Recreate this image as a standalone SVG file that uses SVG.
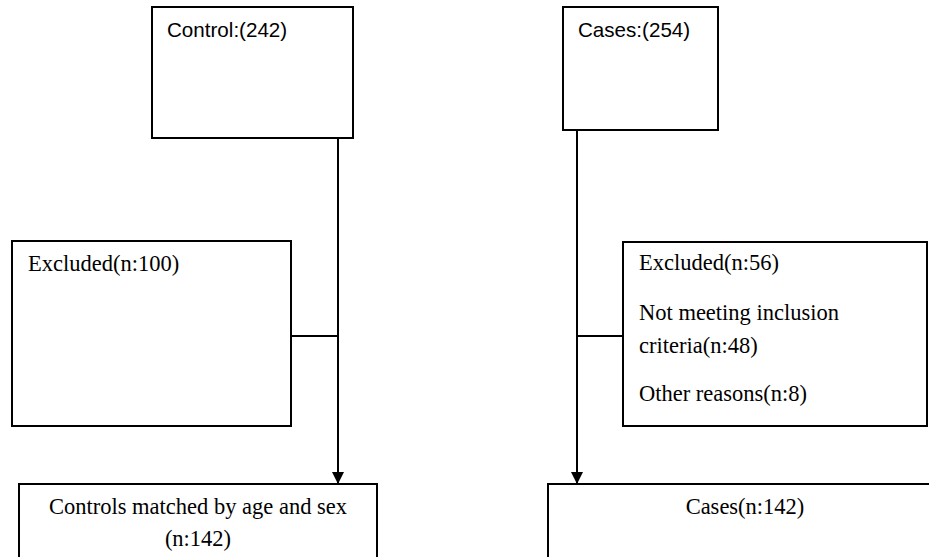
<svg xmlns="http://www.w3.org/2000/svg" width="929" height="557" viewBox="0 0 929 557">
<style>
.box{fill:#fff;stroke:#000;stroke-width:2}
.ln{fill:none;stroke:#000;stroke-width:2}
.sans{font-family:"Liberation Sans",Arial,sans-serif;font-size:20.6px;fill:#000}
.serif{font-family:"Liberation Serif","Times New Roman",serif;font-size:22.5px;fill:#000}
</style>
<defs>
<marker id="arr" markerWidth="12" markerHeight="12" refX="12" refY="6" orient="auto" markerUnits="userSpaceOnUse">
<path d="M0,0 L12,6 L0,12 Z" fill="#000"/>
</marker>
</defs>
<g id="connectors">
<line class="ln" x1="338" y1="138" x2="338" y2="484" marker-end="url(#arr)"/>
<line class="ln" x1="291" y1="336" x2="339" y2="336"/>
<line class="ln" x1="577" y1="130" x2="577" y2="484" marker-end="url(#arr)"/>
<line class="ln" x1="577" y1="336" x2="623" y2="336"/>
</g>
<g id="control">
<rect class="box" x="152" y="7" width="201" height="131"/>
<text class="sans" x="167" y="37">Control:(242)</text>
</g>
<g id="cases">
<rect class="box" x="563" y="7" width="155" height="123"/>
<text class="sans" x="578" y="37">Cases:(254)</text>
</g>
<g id="excluded-control">
<rect class="box" x="12" y="241" width="279" height="185"/>
<text class="serif" x="28" y="271">Excluded(n:100)</text>
</g>
<g id="excluded-cases">
<rect class="box" x="623" y="242" width="304" height="184"/>
<text class="serif" x="639" y="270">Excluded(n:56)</text>
<text class="serif" x="639" y="320">Not meeting inclusion</text>
<text class="serif" x="639" y="353">criteria(n:48)</text>
<text class="serif" x="639" y="401">Other reasons(n:8)</text>
</g>
<g id="controls-matched">
<rect class="box" x="19" y="484" width="358" height="90"/>
<text class="serif" x="198" y="514" text-anchor="middle">Controls matched by age and sex</text>
<text class="serif" x="198" y="546" text-anchor="middle">(n:142)</text>
</g>
<g id="cases-final">
<rect class="box" x="548" y="484" width="400" height="90"/>
<text class="serif" x="745" y="514" text-anchor="middle">Cases(n:142)</text>
</g>
</svg>
